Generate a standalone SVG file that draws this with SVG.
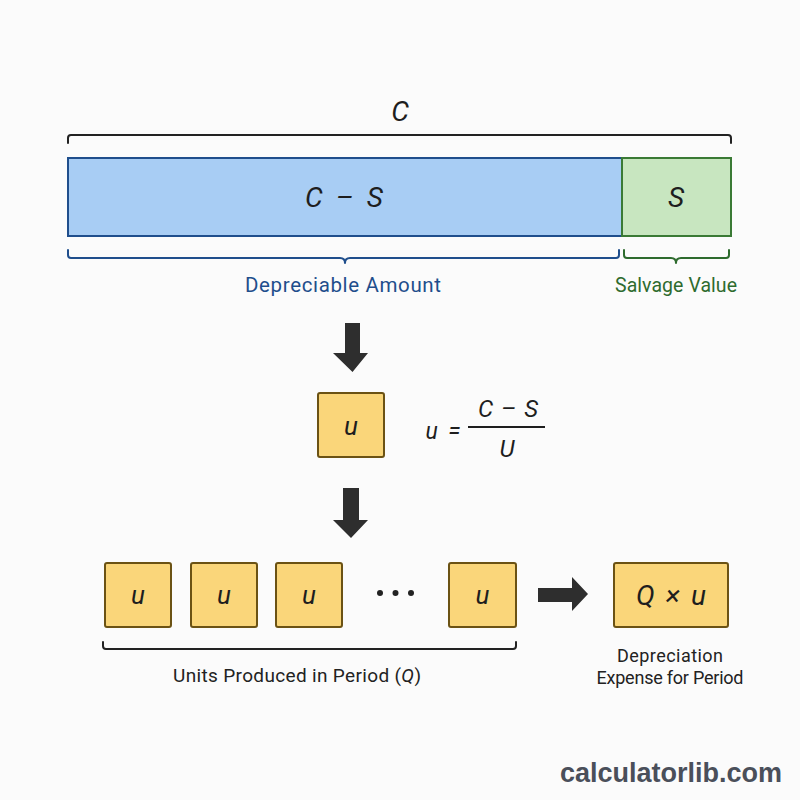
<svg xmlns="http://www.w3.org/2000/svg" width="800" height="800" viewBox="0 0 800 800">
<style>
.bg{fill:#fbfbfb}
.math{font-family:Roboto,"Liberation Sans",sans-serif;font-style:italic;fill:#1e1e1e;text-anchor:middle}
.lbl{font-family:Roboto,"Liberation Sans",sans-serif;fill:#222;text-anchor:middle}
.ubox{fill:#fad67a;stroke:#6b5214;stroke-width:2}
.brk{fill:none;stroke-width:2;stroke-linecap:round;stroke-linejoin:round}
.arr{fill:#2e2e2e}
</style>
<rect class="bg" x="0" y="0" width="800" height="800"/>

<g id="cost-bracket">
<path class="brk" stroke="#222" d="M68,143 V138 Q68,135 71,135 H728 Q731,135 731,138 V143"/>
<text class="math" x="400" y="121" font-size="28">C</text>
</g>

<g id="depreciable-bar">
<rect x="68" y="158" width="554" height="78" fill="#a8cdf4" stroke="#1f4e8c" stroke-width="2"/>
<text class="math" x="344" y="207" font-size="28" textLength="78" lengthAdjust="spacing">C – S</text>
</g>
<g id="salvage-bar">
<rect x="622" y="158" width="109" height="78" fill="#c8e6c0" stroke="#3a7a35" stroke-width="2"/>
<text class="math" x="676" y="207" font-size="28">S</text>
</g>

<g id="depreciable-brace">
<path class="brk" stroke="#1f4e8c" d="M68,250 V255 Q68,258 71,258 H340 Q345,258 345,263 Q345,258 350,258 H616 Q619,258 619,255 V250"/>
<text class="lbl" x="343" y="292" font-size="20.5" textLength="196" lengthAdjust="spacing" style="fill:#1f4e8c">Depreciable Amount</text>
</g>
<g id="salvage-brace">
<path class="brk" stroke="#2e6b2e" d="M624,250 V255 Q624,258 627,258 H671 Q676,258 676,263 Q676,258 681,258 H726 Q729,258 729,255 V250"/>
<text class="lbl" x="676" y="292" font-size="19.5" textLength="122" lengthAdjust="spacing" style="fill:#2e6b2e">Salvage Value</text>
</g>

<g id="connectors">
<polygon class="arr" points="345,323 360,323 360,353 368,353 352.5,372 333,353 345,353"/>
<polygon class="arr" points="343,488 359,488 359,520 368,520 351,538 333,520 343,520"/>
<polygon class="arr" points="538,588 572,588 572,577 588,594 572,611 572,602 538,602"/>
</g>

<g id="unit-rate">
<rect class="ubox" x="318" y="393" width="66" height="64" rx="2"/>
<text class="math" x="351" y="435" font-size="26">u</text>
</g>
<g id="formula">
<text class="math" x="443" y="439" font-size="23" textLength="35" lengthAdjust="spacing">u =</text>
<line x1="468" y1="427" x2="545" y2="427" stroke="#1e1e1e" stroke-width="2"/>
<text class="math" x="508" y="417" font-size="24" textLength="60" lengthAdjust="spacing">C – S</text>
<text class="math" x="507" y="457" font-size="24">U</text>
</g>

<g id="unit-1"><rect class="ubox" x="105" y="563" width="66" height="64" rx="2"/><text class="math" x="138" y="604" font-size="26">u</text></g>
<g id="unit-2"><rect class="ubox" x="191" y="563" width="66" height="64" rx="2"/><text class="math" x="224" y="604" font-size="26">u</text></g>
<g id="unit-3"><rect class="ubox" x="276" y="563" width="66" height="64" rx="2"/><text class="math" x="309" y="604" font-size="26">u</text></g>
<g id="ellipsis">
<circle cx="380" cy="593" r="3" fill="#222"/><circle cx="395.5" cy="593" r="3" fill="#222"/><circle cx="411" cy="593" r="3" fill="#222"/>
</g>
<g id="unit-n"><rect class="ubox" x="449" y="563" width="67" height="64" rx="2"/><text class="math" x="482.5" y="604" font-size="26">u</text></g>

<g id="units-bracket">
<path class="brk" stroke="#222" d="M103,642 V646 Q103,649 106,649 H513 Q516,649 516,646 V642"/>
<text class="lbl" x="297" y="682" font-size="19" textLength="248" lengthAdjust="spacing">Units Produced in Period (<tspan font-style="italic">Q</tspan>)</text>
</g>

<g id="expense">
<rect class="ubox" x="614" y="563" width="114" height="64" rx="2"/>
<text class="math" x="671" y="605" font-size="28" textLength="70" lengthAdjust="spacing">Q × u</text>
<text class="lbl" x="670" y="662" font-size="18" textLength="106" lengthAdjust="spacing">Depreciation</text>
<text class="lbl" x="670" y="684" font-size="18" textLength="147" lengthAdjust="spacing">Expense for Period</text>
</g>

<text x="671" y="782" font-family="'Liberation Sans',Arial,sans-serif" font-weight="bold" font-size="27" fill="#4a4f5a" text-anchor="middle">calculatorlib.com</text>
</svg>
